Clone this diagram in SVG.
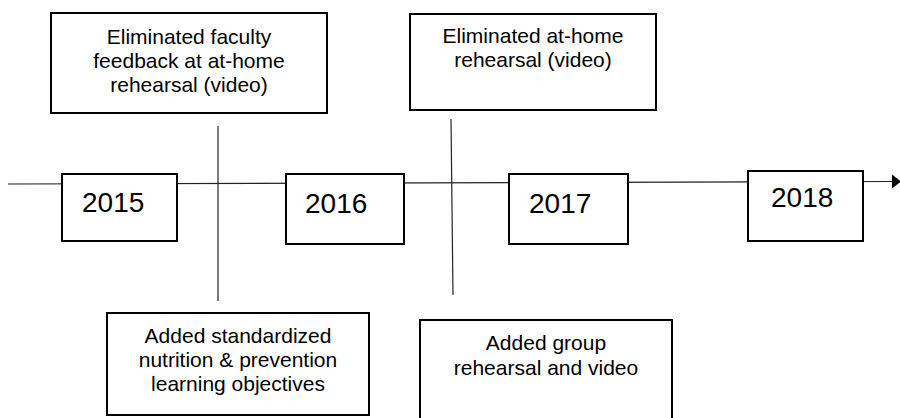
<svg xmlns="http://www.w3.org/2000/svg" width="900" height="418" viewBox="0 0 900 418">
  <style>
    .box { fill: #ffffff; stroke: #000000; stroke-width: 2; }
    .note { font-family: "Liberation Sans", Arial, sans-serif; font-size: 21px; fill: #000000; text-anchor: middle; }
    .year { font-family: "Liberation Sans", Arial, sans-serif; font-size: 28px; fill: #000000; }
    .conn { stroke: #222222; stroke-width: 1.2; fill: none; }
  </style>
  <defs>
    <marker id="arrow" markerWidth="9" markerHeight="14" refX="1" refY="7" orient="auto" markerUnits="userSpaceOnUse">
      <path d="M0,0 L9,7 L0,14 Z" fill="#000000"/>
    </marker>
  </defs>
  <rect x="0" y="0" width="900" height="418" fill="#ffffff"/>

  <g id="connectors">
    <line class="conn" x1="8" y1="184" x2="893" y2="181.5" marker-end="url(#arrow)"/>
    <line class="conn" x1="218" y1="126" x2="218" y2="301"/>
    <line class="conn" x1="451" y1="119" x2="453" y2="295"/>
  </g>

  <g id="note-faculty-feedback">
    <rect class="box" x="51" y="13" width="276" height="100"/>
    <text class="note" x="189" y="44">Eliminated faculty</text>
    <text class="note" x="189" y="68">feedback at at-home</text>
    <text class="note" x="189" y="92">rehearsal (video)</text>
  </g>

  <g id="note-at-home-rehearsal">
    <rect class="box" x="410" y="14" width="246" height="96"/>
    <text class="note" x="533" y="43">Eliminated at-home</text>
    <text class="note" x="533" y="67">rehearsal (video)</text>
  </g>

  <g id="year-2015">
    <rect class="box" x="62" y="174" width="115" height="67"/>
    <text class="year" x="82" y="212">2015</text>
  </g>

  <g id="year-2016">
    <rect class="box" x="286" y="174" width="118" height="70"/>
    <text class="year" x="305" y="213">2016</text>
  </g>

  <g id="year-2017">
    <rect class="box" x="509" y="174" width="119" height="70"/>
    <text class="year" x="529" y="213">2017</text>
  </g>

  <g id="year-2018">
    <rect class="box" x="748" y="171" width="115" height="70"/>
    <text class="year" x="771" y="207">2018</text>
  </g>

  <g id="note-learning-objectives">
    <rect class="box" x="107" y="313" width="262" height="102"/>
    <text class="note" x="238" y="343">Added standardized</text>
    <text class="note" x="238" y="367">nutrition &amp; prevention</text>
    <text class="note" x="238" y="391">learning objectives</text>
  </g>

  <g id="note-group-rehearsal">
    <rect class="box" x="420" y="320" width="252" height="110"/>
    <text class="note" x="546" y="350">Added group</text>
    <text class="note" x="546" y="375">rehearsal and video</text>
  </g>
</svg>
